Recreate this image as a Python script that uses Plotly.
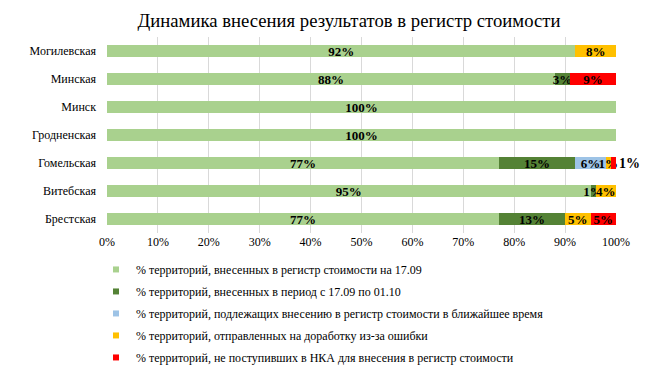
import plotly.graph_objects as go

categories = ["Могилевская", "Минская", "Минск", "Гродненская", "Гомельская", "Витебская", "Брестская"]
series_names = [
    "% территорий, внесенных в регистр стоимости на 17.09",
    "% территорий, внесенных в период с 17.09 по 01.10",
    "% территорий, подлежащих внесению в регистр стоимости в ближайшее время",
    "% территорий, отправленных на доработку из-за ошибки",
    "% территорий, не поступивших в НКА для внесения в регистр стоимости",
]
s_entered = [92, 88, 100, 100, 77, 95, 77]
s_period = [0, 3, 0, 0, 15, 1, 13]
s_pending = [0, 0, 0, 0, 6, 0, 0]
s_rework = [8, 0, 0, 0, 1, 4, 5]
s_missing = [0, 9, 0, 0, 1, 0, 5]
colors = ["#A9D18E", "#548235", "#9DC3E6", "#FFC000", "#FF0000"]
tick_vals = [0, 10, 20, 30, 40, 50, 60, 70, 80, 90, 100]
tick_text = ["0%", "10%", "20%", "30%", "40%", "50%", "60%", "70%", "80%", "90%", "100%"]

all_series = [s_entered, s_period, s_pending, s_rework, s_missing]

fig = go.Figure()
for i, (name, vals, col) in enumerate(zip(series_names, all_series, colors)):
    texts = [f"{v}%" if v else "" for v in vals]
    positions = ["inside"] * len(vals)
    if i == 4:
        positions = ["outside" if (v and v < 2) else "inside" for v in vals]
    fig.add_trace(go.Bar(
        y=categories, x=[v if v else None for v in vals], name=name, orientation="h",
        marker=dict(color=col, line=dict(width=0)),
        text=texts, textposition=positions, insidetextanchor="middle",
        textangle=0, constraintext="none", cliponaxis=False,
        textfont=dict(family="Liberation Serif", size=13, color="black", weight="bold"),
        outsidetextfont=dict(family="Liberation Serif", size=14, color="black"),
        hoverinfo="skip", showlegend=False,
    ))
# legend entries with small square swatches
for i, (name, col) in enumerate(zip(series_names, colors)):
    fig.add_trace(go.Scatter(
        x=[None], y=[None], mode="markers", name=name,
        marker=dict(symbol="square", size=6, color=col),
        legendgroup=f"g{i}", hoverinfo="skip",
    ))

W, H = 661, 389
L, T, PW, PH = 99, 29, 509, 196

fig.update_layout(
    barmode="stack", bargap=0.6,
    width=W, height=H,
    margin=dict(l=L, r=W - L - PW, t=T, b=H - T - PH, autoexpand=False),
    paper_bgcolor="white", plot_bgcolor="white",
    title=dict(text="Динамика внесения результатов в регистр стоимости",
               x=341 / W, xanchor="center", xref="container",
               y=1 - 12 / H, yanchor="middle", yref="container",
               font=dict(family="Liberation Serif", size=18.7, color="black")),
    font=dict(family="Liberation Serif", size=12, color="black"),
    xaxis=dict(range=[0, 100], tickvals=tick_vals, ticktext=tick_text, showgrid=True,
               gridcolor="#D9D9D9", gridwidth=1, zeroline=False, showline=False,
               automargin=False,
               tickfont=dict(family="Liberation Serif", size=12, color="black"), fixedrange=True),
    yaxis=dict(autorange="reversed", showgrid=False, showline=False, ticks="", ticklen=0,
               ticklabelstandoff=10, automargin=False,
               tickfont=dict(family="Liberation Serif", size=12, color="black"), fixedrange=True),
    legend=dict(orientation="v", x=-0.0216, xanchor="left", y=-0.112, yanchor="top",
                font=dict(family="Liberation Serif", size=12, color="black"),
                tracegroupgap=3, itemwidth=30, bgcolor="rgba(0,0,0,0)"),
    showlegend=True,
)

fig.write_html("out.html")
